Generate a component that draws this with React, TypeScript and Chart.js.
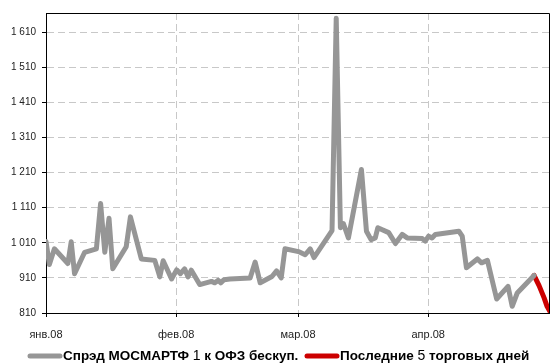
import React, { useEffect, useRef } from "react";
import { Chart, registerables } from "chart.js";

Chart.register(...registerables);

// Days counted from 1 Jan 2008 (day 0)
const greyDays = [
  0, 0.8, 2, 5.2, 6, 6.8, 9.2, 12, 13, 14, 15, 15.9, 19.1, 20.1, 22.7, 25.9,
  27.1, 27.9, 29.9, 31.1, 32, 33, 33.8, 34.6, 36.6, 39.4, 40.2, 41, 41.6,
  42.4, 43.8, 48.6, 49.8, 51, 53.8, 54.9, 56, 56.9, 60.1, 61.7, 62.9, 63.8,
  68.1, 69.1, 70.1, 70.8, 72, 75.1, 76.3, 77.4, 78.4, 79, 81.6, 83.2, 84.8,
  86, 89.6, 90.3, 91.1, 91.9, 92.7, 98.3, 99.1, 100.1, 102.7, 103.7, 105.1,
  107.3, 110, 111, 112.2, 116.2,
];
const greyValues = [
  1014, 948, 993, 951, 1013, 922, 983, 993, 1122, 983, 1080, 936, 999, 1084,
  964, 960, 913, 959, 907, 933, 922, 936, 913, 932, 891, 900, 896, 903, 896,
  905, 907, 910, 955, 896, 914, 930, 910, 993, 985, 976, 993, 968, 1045, 1650,
  1053, 1065, 1024, 1219, 1043, 1019, 1024, 1053, 1039, 1008, 1034, 1024,
  1022, 1015, 1029, 1024, 1034, 1043, 1029, 939, 964, 953, 960, 850, 886, 829,
  867, 917,
];
const redDays = [116.2, 117.4, 118.6, 119.3, 120];
const redValues = [917, 888, 853, 829, 814];

const yTicks = [810, 910, 1010, 1110, 1210, 1310, 1410, 1510, 1610];
const monthTickDays = [0, 31, 60, 91];
const monthLabels = ["янв.08", "фев.08", "мар.08", "апр.08"];

const legendGrey = ["Спрэд МОСМАРТФ ", "1", " к ОФЗ бескуп."];
const legendRed = ["Последние ", "5", " торговых дней"];

const GREY = "#969696";
const RED = "#cc0000";
const FONT = "'Liberation Sans', Arial, sans-serif";

function fmt(v: number): string {
  if (v >= 1000) {
    return `${Math.floor(v / 1000)} ${String(v % 1000).padStart(3, "0")}`;
  }
  return String(v);
}

const framePlugin = {
  id: "frame",
  afterDatasetsDraw(chart: any) {
    const { ctx, chartArea } = chart;
    ctx.save();
    ctx.strokeStyle = "#000";
    ctx.lineWidth = 1;
    ctx.setLineDash([]);
    const t = Math.round(chartArea.top) + 0.5;
    const r = Math.round(chartArea.right) - 0.5;
    ctx.beginPath();
    ctx.moveTo(chartArea.left, t);
    ctx.lineTo(r, t);
    ctx.lineTo(r, chartArea.bottom);
    ctx.stroke();
    ctx.restore();
  },
};

function drawLegendItem(
  ctx: CanvasRenderingContext2D,
  x: number,
  y: number,
  color: string,
  parts: string[]
) {
  ctx.save();
  ctx.strokeStyle = color;
  ctx.lineWidth = 5;
  ctx.lineCap = "round";
  ctx.beginPath();
  ctx.moveTo(x + 2, y);
  ctx.lineTo(x + 32, y);
  ctx.stroke();
  let tx = x + 35;
  ctx.fillStyle = "#000";
  ctx.textBaseline = "middle";
  ctx.textAlign = "left";
  parts.forEach((p, i) => {
    ctx.font = i === 1 ? `14px ${FONT}` : `bold 13.5px ${FONT}`;
    ctx.fillText(p, tx, y);
    tx += ctx.measureText(p).width;
  });
  ctx.restore();
}

const legendPlugin = {
  id: "customLegend",
  afterDraw(chart: any) {
    const { ctx } = chart;
    drawLegendItem(ctx, 28, 356, GREY, legendGrey);
    drawLegendItem(ctx, 305, 356, RED, legendRed);
  },
};

export default function App() {
  const ref = useRef<HTMLCanvasElement>(null);
  useEffect(() => {
    document.body.style.margin = "0";
    const canvas = ref.current!;
    const chart = new Chart(canvas, {
      type: "line",
      data: {
        datasets: [
          {
            data: greyDays.map((d, i) => ({ x: d, y: greyValues[i] })),
            borderColor: GREY,
            borderWidth: 5,
            pointRadius: 0,
            tension: 0,
            borderJoinStyle: "round",
            borderCapStyle: "round",
          },
          {
            data: redDays.map((d, i) => ({ x: d, y: redValues[i] })),
            borderColor: RED,
            borderWidth: 5,
            pointRadius: 0,
            tension: 0,
            borderJoinStyle: "round",
            borderCapStyle: "round",
          },
        ],
      },
      options: {
        responsive: false,
        animation: false,
        events: [],
        layout: { padding: { top: 13, right: 0, left: 0, bottom: 0 } },
        plugins: { legend: { display: false }, tooltip: { enabled: false } },
        scales: {
          x: {
            type: "linear",
            min: 0,
            max: 120,
            afterBuildTicks: (s: any) => {
              s.ticks = monthTickDays.map((v) => ({ value: v }));
            },
            afterFit: (s: any) => {
              s.height = 51;
            },
            ticks: {
              autoSkip: false,
              maxRotation: 0,
              padding: 11,
              color: "#222",
              font: { family: FONT, size: 11 },
              callback: (v: any) => monthLabels[monthTickDays.indexOf(Number(v))] ?? "",
            },
            grid: {
              color: "#c8c8c8",
              lineWidth: 1,
              tickColor: "#000",
              tickLength: 4,
              tickBorderDash: [],
            },
            border: { display: true, color: "#000", width: 1, dash: [7, 4] },
          },
          y: {
            type: "linear",
            min: 810,
            max: 1665,
            afterBuildTicks: (s: any) => {
              s.ticks = yTicks.map((v) => ({ value: v }));
            },
            afterFit: (s: any) => {
              s.width = 46;
            },
            ticks: {
              padding: 6,
              color: "#222",
              font: { family: FONT, size: 10 },
              callback: (v: any) => fmt(Number(v)),
            },
            grid: {
              color: "#c8c8c8",
              lineWidth: 1,
              tickColor: "#000",
              tickLength: 4,
              tickBorderDash: [],
            },
            border: { display: true, color: "#000", width: 1, dash: [7, 4] },
          },
        },
      },
      plugins: [framePlugin, legendPlugin],
    });
    return () => chart.destroy();
  }, []);
  return (
    <div style={{ position: "absolute", left: 0, top: 0, width: 550, height: 364 }}>
      <canvas ref={ref} width={550} height={364} style={{ display: "block" }} />
    </div>
  );
}
